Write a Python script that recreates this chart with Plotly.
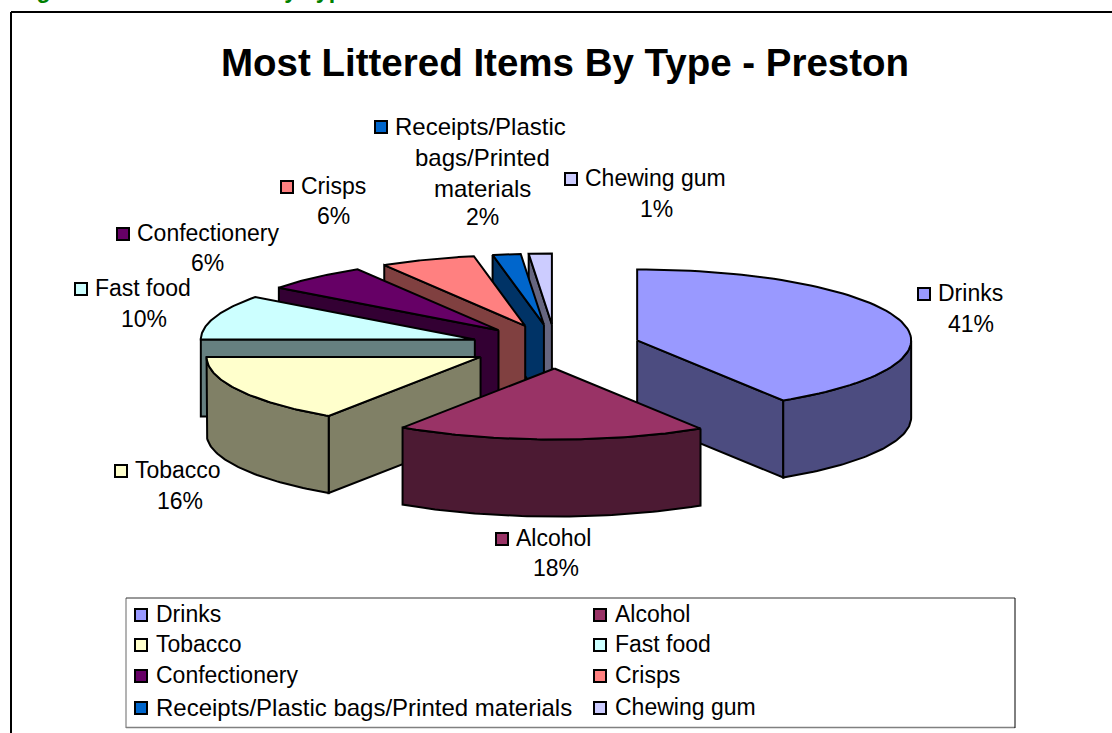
import numpy as np
import plotly.graph_objects as go

# ---- data ----
categories = ["Drinks", "Alcohol", "Tobacco", "Fast food", "Confectionery", "Crisps",
              "Receipts/Plastic bags/Printed materials", "Chewing gum"]
values = [41.05, 18.3, 15.65, 10.2, 6.2, 5.6, 1.65, 1.35]
shown_pct = [41, 18, 16, 10, 6, 6, 2, 1]
colors = ["#9999FF", "#993366", "#FFFFCC", "#CCFFFF", "#660066", "#FF8080", "#0066CC", "#CCCCFF"]
title_text = "Most Littered Items By Type - Preston"
caption_text = "Figure 6: Most Littered by Type"

# ---- pie geometry (pixels) ----
CX, CY, RX, RY, DEPTH = 555.5, 346.5, 274, 71, 77
PULL_X, PULL_Y = 85, 22
LINE = dict(color="black", width=2)

def shade(hex_col, f=0.5):
    r, g, b = (int(hex_col[i:i + 2], 16) for i in (1, 3, 5))
    return f"rgb({round(r*f)},{round(g*f)},{round(b*f)})"

fig = go.Figure()

def poly(xs, ys, fill):
    fig.add_trace(go.Scatter(x=list(xs), y=list(ys), mode="lines", fill="toself",
                             fillcolor=fill, line=LINE, hoverinfo="skip", showlegend=False))

cum = np.cumsum([0] + values) / sum(values) * 2 * np.pi
order = [7, 6, 5, 4, 3, 2, 0, 1]   # painted back to front
for i in order:
    a0, a1 = cum[i], cum[i + 1]
    mid = (a0 + a1) / 2
    ax = CX + PULL_X * np.sin(mid)
    ay = CY - PULL_Y * np.cos(mid)
    ex = lambda a: ax + RX * np.sin(a)
    ey = lambda a: ay - RY * np.cos(a)
    dark = shade(colors[i])
    # radial walls
    if np.sin(a0) < -1e-6:
        poly([ax, ex(a0), ex(a0), ax, ax], [ay, ey(a0), ey(a0) + DEPTH, ay + DEPTH, ay], dark)
    if np.sin(a1) > 1e-6:
        poly([ax, ex(a1), ex(a1), ax, ax], [ay, ey(a1), ey(a1) + DEPTH, ay + DEPTH, ay], dark)
    # outer rim
    lo, hi = max(a0, np.pi / 2), min(a1, 3 * np.pi / 2)
    if hi > lo:
        t = np.linspace(lo, hi, 60)
        poly(np.r_[ex(t), ex(t)[::-1], ex(t)[0]],
             np.r_[ey(t), ey(t)[::-1] + DEPTH, ey(t)[0]], dark)
    # top face
    t = np.linspace(a0, a1, 80)
    poly(np.r_[ax, ex(t), ax], np.r_[ay, ey(t), ay], colors[i])

# ---- labels ----
FONT = "Liberation Sans, Arial, sans-serif"
TXT = 23
annotations = []

def text(x, y, s, anchor="left", size=TXT, color="black", bold=False, yshift=0):
    annotations.append(dict(x=x, y=y, xref="x", yref="y", text=f"<b>{s}</b>" if bold else s,
                            showarrow=False, xanchor=anchor, yanchor="middle", yshift=yshift,
                            font=dict(family=FONT, size=size, color=color)))

pct = [f"{p}%" for p in shown_pct]
label_name_lines = [[categories[0]], [categories[1]], [categories[2]], [categories[3]],
                    [categories[4]], [categories[5]],
                    ["Receipts/Plastic", "bags/Printed", "materials"], [categories[7]]]
label_marker = [(924, 294), (502, 539), (121, 471), (81, 289), (123, 234), (287, 187), (381, 127), (571, 179)]
label_pct_cx = [971, 556, 180, 144, 207, 333, 482, 656]
label_pct_cy = [324, 568, 501, 319, 263, 216, 217, 209]
for i, lines in enumerate(label_name_lines):
    mx, my = label_marker[i]
    sz = 24 if i == 6 else TXT
    text(mx + 12, my - 1, lines[0], size=sz)
    for k, ln in enumerate(lines[1:]):
        text(label_pct_cx[i], my - 1 + 31 * (k + 1), ln, "center", size=sz)
    text(label_pct_cx[i], label_pct_cy[i], pct[i], "center")

# legend rows: two columns, filled row by row
leg_col_x = [141, 600]
leg_row_y = [614, 644, 675, 707]
leg_mx, leg_my = [], []
for i, c in enumerate(categories):
    col, row = i % 2, i // 2
    leg_mx.append(leg_col_x[col])
    leg_my.append(leg_row_y[row] + 1)
    text(leg_col_x[col] + 13, leg_row_y[row], c, size=24 if i == 6 else TXT)

fig.add_trace(go.Scatter(x=[m[0] for m in label_marker] + leg_mx,
                         y=[m[1] for m in label_marker] + leg_my,
                         mode="markers", hoverinfo="skip", showlegend=False,
                         marker=dict(symbol="square", size=12, color=colors + colors,
                                     line=dict(color="black", width=2))))

text(564.5, 62, title_text, "center", size=38.5, bold=True)
text(14, 0, caption_text, "left", size=23, color="#008000", bold=True, yshift=10)

shapes = [
    dict(type="line", x0=11, x1=1112, y0=12, y1=12, line=dict(color="black", width=2)),
    dict(type="line", x0=11, x1=11, y0=12, y1=733, line=dict(color="black", width=2)),
    dict(type="line", x0=126, x1=126, y0=598, y1=728, line=dict(color="#808080", width=1.2)),
    dict(type="line", x0=126, x1=1015, y0=727.5, y1=727.5, line=dict(color="#808080", width=1.5)),
    dict(type="line", x0=126, x1=1015, y0=598, y1=598, line=dict(color="#333333", width=1)),
    dict(type="line", x0=1015, x1=1015, y0=598, y1=728, line=dict(color="black", width=1)),
]

fig.update_layout(
    width=1112, height=733, margin=dict(l=0, r=0, t=0, b=0),
    paper_bgcolor="white", plot_bgcolor="white", showlegend=False,
    xaxis=dict(range=[0, 1112], visible=False, fixedrange=True),
    yaxis=dict(range=[733, 0], visible=False, fixedrange=True),
    annotations=annotations, shapes=shapes,
)
fig.write_html("out.html", config=dict(displayModeBar=False),
               post_script="document.body.style.margin='0';document.body.style.overflow='hidden';")
